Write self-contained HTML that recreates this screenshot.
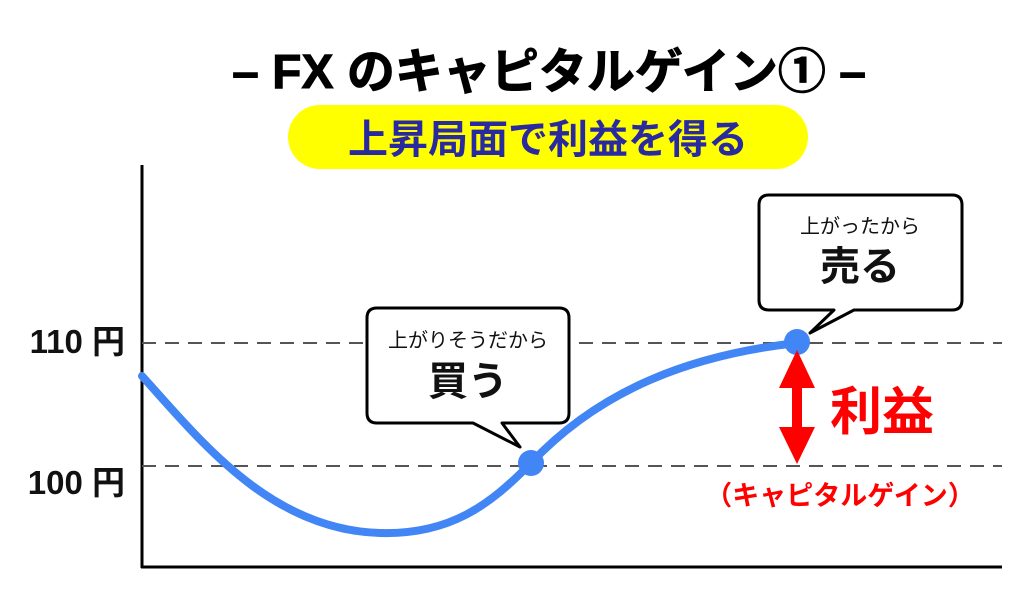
<!DOCTYPE html>
<html><head><meta charset="utf-8"><style>
html,body{margin:0;padding:0;background:#fff;}
svg{display:block}
text{font-family:"Liberation Sans","Noto Sans CJK JP",sans-serif;}
</style></head><body>
<svg width="1024" height="595" viewBox="0 0 1024 595" xmlns="http://www.w3.org/2000/svg">
<text x="549" y="88" text-anchor="middle" font-size="48" font-weight="bold" fill="#000" stroke="#000" stroke-width="1">– FX のキャピタルゲイン① –</text>
<rect x="288" y="105" width="520" height="64" rx="32" fill="#ffff00"/>
<text x="548" y="153" text-anchor="middle" font-size="40" font-weight="bold" fill="#2a2aa0">上昇局面で利益を得る</text>
<line x1="142" y1="165" x2="142" y2="568" stroke="#000" stroke-width="3"/>
<line x1="141" y1="567" x2="1002" y2="567" stroke="#000" stroke-width="3"/>
<line x1="142" y1="343" x2="1002" y2="343" stroke="#555" stroke-width="2" stroke-dasharray="14,9"/>
<line x1="142" y1="466" x2="1002" y2="466" stroke="#555" stroke-width="2" stroke-dasharray="14,9"/>
<text x="125" y="353" text-anchor="end" font-size="33" font-weight="bold" fill="#111">110 円</text>
<text x="125" y="494" text-anchor="end" font-size="33" font-weight="bold" fill="#111">100 円</text>
<path d="M142,376 C200,440 270,530 380,533 C450,535 490,505 531,463 C600,390 690,355 797,343" fill="none" stroke="#4285f4" stroke-width="8" stroke-linecap="round"/>
<circle cx="531" cy="463" r="13" fill="#4285f4"/>
<circle cx="797" cy="342" r="13" fill="#4285f4"/>
<path d="M377,308 H559 Q569,308 569,318 V413 Q569,423 559,423 H502 L520,447 L473,423 H377 Q367,423 367,413 V318 Q367,308 377,308 Z" fill="#fff" stroke="#000" stroke-width="3" stroke-linejoin="round"/>
<text x="468" y="347" text-anchor="middle" font-size="20" fill="#111">上がりそうだから</text>
<text x="468" y="395" text-anchor="middle" font-size="40" font-weight="bold" fill="#111">買う</text>
<path d="M769,195 H952 Q962,195 962,205 V300 Q962,310 952,310 H854 L810,333 L834,310 H769 Q759,310 759,300 V205 Q759,195 769,195 Z" fill="#fff" stroke="#000" stroke-width="3" stroke-linejoin="round"/>
<text x="860" y="233" text-anchor="middle" font-size="20" fill="#111">上がったから</text>
<text x="860" y="280" text-anchor="middle" font-size="40" font-weight="bold" fill="#111">売る</text>
<line x1="797" y1="385" x2="797" y2="430" stroke="#ff0000" stroke-width="10"/>
<polygon points="797,350 779,388 815,388" fill="#ff0000"/>
<polygon points="797,464 779,427 815,427" fill="#ff0000"/>
<text x="882" y="430" text-anchor="middle" font-size="52" font-weight="bold" fill="#ff0000">利益</text>
<text x="840" y="505" text-anchor="middle" font-size="27" font-weight="bold" fill="#ff0000">（キャピタルゲイン）</text>
</svg>
</body></html>
